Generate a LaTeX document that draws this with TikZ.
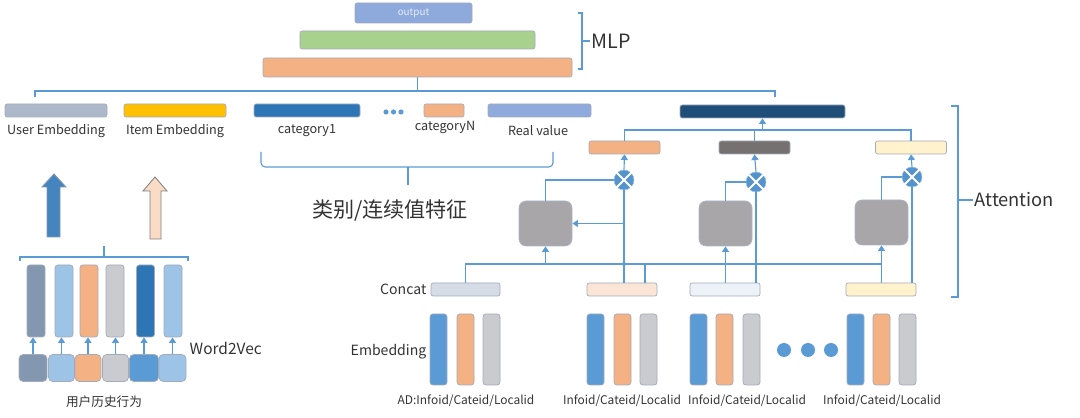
\documentclass[tikz,border=0pt]{standalone}
\usepackage{fontspec}
\setmainfont{Noto Sans CJK SC}
\usetikzlibrary{arrows.meta}

\definecolor{outc}{HTML}{8EA9DB}
\definecolor{greenc}{HTML}{A9D18E}
\definecolor{orangec}{HTML}{F4B183}
\definecolor{userc}{HTML}{ADB9CA}
\definecolor{yellowc}{HTML}{FFC000}
\definecolor{catc}{HTML}{2E75B6}
\definecolor{realc}{HTML}{8FAADC}
\definecolor{navyc}{HTML}{1F4E79}
\definecolor{dgrayc}{HTML}{767171}
\definecolor{lyellowc}{HTML}{FFF2CC}
\definecolor{unitc}{HTML}{A8A6A8}
\definecolor{linec}{HTML}{5B9BD5}
\definecolor{bluec}{HTML}{5B9BD5}
\definecolor{lgrayc}{HTML}{C9CBCF}
\definecolor{peachc}{HTML}{FBE5D6}
\definecolor{paleblc}{HTML}{EDF2F9}
\definecolor{concatc}{HTML}{D6DCE5}
\definecolor{slatec}{HTML}{8497B0}
\definecolor{skyc}{HTML}{9DC3E6}
\definecolor{bordc}{HTML}{A3ABBA}
\definecolor{txtc}{HTML}{333333}

\tikzset{
  box/.style={draw=bordc, rounded corners=1.5pt, inner sep=0pt, line width=0.5pt},
  sz/.style 2 args={minimum width=#1*0.025cm, minimum height=#2*0.025cm},
  wire/.style={draw=linec, line width=0.8pt},
  arr/.style={wire, -{Triangle[length=4pt,width=5pt]}},
  lab/.style={text=txtc, font=\fontsize{9}{10}\selectfont, inner sep=1pt},
  mul/.style={circle, fill=linec!90!navyc, draw=skyc, minimum size=0.5cm, inner sep=0pt},
  unit/.style={box, fill=unitc, draw=slatec!70, rounded corners=5pt, sz={53}{45}},
  tall/.style={box, rounded corners=2pt, sz={17}{71}},
}

\begin{document}
\begin{tikzpicture}[x=0.025cm, y=-0.025cm]
  \useasboundingbox (0,0) rectangle (1080,418);

  % MLP
  \node[box, fill=outc, sz={117}{20}, text=white!80!outc, font=\fontsize{7}{8}\selectfont] (out) at (413.5,13) {output};
  \node[box, fill=greenc, sz={235}{18}] (mlp2) at (417.5,40) {};
  \node[box, fill=orangec, sz={309}{19}] (mlp1) at (417.5,67.5) {};
  \draw[wire] (578,13) -- (582,13) -- (582,69) -- (578,69);
  \draw[wire] (582,41) -- (590,41);
  \node[lab, anchor=west, font=\fontsize{14}{16}\selectfont] (mlplab) at (590,41) {MLP};

  % feature row
  \coordinate (busL) at (35,91);
  \coordinate (busR) at (775,91);
  \draw[wire] (mlp1.south) -- (mlp1.south |- busL);
  \draw[wire] ([yshift=-0.15cm]busL) -- (busL) -- (busR) -- ([yshift=-0.15cm]busR);
  \node[box, fill=userc, sz={102}{13}] (user) at (56,110.5) {};
  \node[box, fill=yellowc, sz={102}{13}] (item) at (175,110.5) {};
  \node[box, fill=catc, sz={106}{13}] (cat1) at (307,110.5) {};
  \node[box, fill=orangec, sz={40}{13}] (catN) at (444,110.5) {};
  \node[box, fill=realc, sz={103}{13}] (real) at (539.5,110.5) {};
  \fill[bluec] (386,112) circle (2.6) (393.5,112) circle (2.6) (401,112) circle (2.6);
  \node[lab] (userlab) at (56,131) {User Embedding};
  \node[lab] (itemlab) at (175,131) {Item Embedding};
  \node[lab] (cat1lab) at (307,131) {category1};
  \node[lab] (catNlab) at (445,127) {categoryN};
  \node[lab] (reallab) at (538,131) {Real value};
  \draw[wire, rounded corners=3pt] (261,152) -- (261,167) -- (553,167) -- (553,152);
  \draw[wire] (408,167) -- (408,185);
  \node[lab, font=\fontsize{15}{17}\selectfont] (featlab) at (390,211) {类别/连续值特征};

  % attention
  \node[box, fill=navyc, sz={165}{13}] (attout) at (762.5,111.5) {};
  \node[box, fill=orangec, sz={71}{13}] (a1) at (624.5,147.5) {};
  \node[box, fill=dgrayc, sz={71}{13}] (a2) at (754.5,147.5) {};
  \node[box, fill=lyellowc, sz={71}{13}] (a3) at (911,147.5) {};
  \coordinate (atbus) at (762.5,130);
  \draw[wire] (a1.north) |- (atbus) -| (a3.north);
  \draw[wire] (a2.north) -- (a2.north |- atbus);
  \draw[arr] (atbus) -- (attout.south);

  \node[mul] (m1) at (624,180) {};
  \node[mul] (m2) at (756,182) {};
  \node[mul] (m3) at (912,177) {};
  \draw[white, line width=1.3pt] (m1.north west) -- (m1.south east) (m1.north east) -- (m1.south west);
  \draw[white, line width=1.3pt] (m2.north west) -- (m2.south east) (m2.north east) -- (m2.south west);
  \draw[white, line width=1.3pt] (m3.north west) -- (m3.south east) (m3.north east) -- (m3.south west);
  \draw[arr] (m1.north) -- (a1.south);
  \draw[arr] (m2.north) -- (a2.south);
  \draw[arr] (m3.north) -- (a3.south);

  \node[unit] (u1) at (545.5,223.5) {};
  \node[unit] (u2) at (725.5,223.5) {};
  \node[unit] (u3) at (881.5,222.5) {};
  \draw[wire] (u1.north) |- (m1.west);
  \draw[wire] (u2.north) |- (m2.west);
  \draw[wire] (u3.north) |- (m3.west);

  \node[box, fill=concatc, sz={69}{13}] (cc) at (465.5,289.5) {};
  \node[box, fill=peachc, sz={70}{13}] (c1) at (622,289.5) {};
  \node[box, fill=paleblc, sz={70}{13}] (c2) at (725,289.5) {};
  \node[box, fill=lyellowc, sz={70}{13}] (c3) at (881,289.5) {};
  \coordinate (ccbus) at (881.5,264);
  \draw[wire] (cc.north) |- (ccbus);
  \draw[arr] (u1.south |- ccbus) -- (u1.south);
  \draw[arr] (c2.north -| u2.south) -- (u2.south);
  \draw[arr] (c3.north -| u3.south) -- (u3.south);
  \draw[wire] (m1 |- c1.north) -- (m1.south);
  \draw[wire] (m2 |- c2.north) -- (m2.south);
  \draw[wire] (m3 |- c3.north) -- (m3.south);
  \draw[arr] (m1 |- u1.east) -- (u1.east);
  \draw[wire] ([xshift=0.575cm]c1.north) -- ([xshift=0.575cm]c1.north |- ccbus);

  \draw[wire] (951,106) -- (958,106) -- (958,297) -- (951,297);
  \draw[wire] (958,200) -- (973,200);
  \node[lab, anchor=west, font=\fontsize{13}{15}\selectfont] (attlab) at (973,200) {Attention};

  % embeddings
  \node[lab, anchor=east, font=\fontsize{10}{12}\selectfont] (cclab) at (428,289) {Concat};
  \node[lab, anchor=east, font=\fontsize{10}{12}\selectfont] (emblab) at (428,352) {Embedding};
  \node[tall, fill=bluec] (e11) at (438.5,349.5) {};
  \node[tall, fill=orangec] (e12) at (465.5,349.5) {};
  \node[tall, fill=lgrayc] (e13) at (491.5,349.5) {};
  \node[tall, fill=bluec] (e21) at (595.5,349.5) {};
  \node[tall, fill=orangec] (e22) at (622.5,349.5) {};
  \node[tall, fill=lgrayc] (e23) at (648.5,349.5) {};
  \node[tall, fill=bluec] (e31) at (698.5,349.5) {};
  \node[tall, fill=orangec] (e32) at (724.5,349.5) {};
  \node[tall, fill=lgrayc] (e33) at (751.5,349.5) {};
  \node[tall, fill=bluec] (e41) at (855.5,349.5) {};
  \node[tall, fill=orangec] (e42) at (881.5,349.5) {};
  \node[tall, fill=lgrayc] (e43) at (907.5,349.5) {};
  \fill[bluec] (784,350) circle (7) (808,350) circle (7) (831,350) circle (7);
  \node[lab, font=\fontsize{8.5}{10}\selectfont] (adlab) at (466,401) {AD:Infoid/Cateid/Localid};
  \node[lab, font=\fontsize{8.5}{10}\selectfont] (g2lab) at (622,401) {Infoid/Cateid/Localid};
  \node[lab, font=\fontsize{8.5}{10}\selectfont] (g3lab) at (747,401) {Infoid/Cateid/Localid};
  \node[lab, font=\fontsize{8.5}{10}\selectfont] (g4lab) at (882,401) {Infoid/Cateid/Localid};

  % user behaviour
  \filldraw[draw=slatec, fill=catc!80!skyc, line width=0.6pt]
    (47,237) -- (47,187) -- (42,187) -- (54,174) -- (66,187) -- (60,187) -- (60,237) -- cycle;
  \filldraw[draw=gray, fill=peachc!80!orangec, line width=0.6pt]
    (150,239) -- (150,191) -- (143,191) -- (155,177) -- (167,191) -- (161,191) -- (161,239) -- cycle;
  \draw[wire] (20,261) -- (20,257) -- (188,257) -- (188,261);
  \draw[wire] (104,257) -- (104,246);
  \node[box, fill=slatec, sz={18}{72}, rounded corners=2pt] (b1) at (36,301) {};
  \node[box, fill=skyc, sz={18}{72}, rounded corners=2pt] (b2) at (64,301) {};
  \node[box, fill=orangec, sz={18}{72}, rounded corners=2pt] (b3) at (89,301) {};
  \node[box, fill=lgrayc, sz={18}{72}, rounded corners=2pt] (b4) at (115,301) {};
  \node[box, fill=catc, sz={18}{72}, rounded corners=2pt] (b5) at (145.5,301) {};
  \node[box, fill=skyc, sz={18}{72}, rounded corners=2pt] (b6) at (173,301) {};
  \node[box, fill=slatec, sz={28}{27}, rounded corners=3pt] (s1) at (33,368) {};
  \node[box, fill=skyc, sz={26}{27}, rounded corners=3pt] (s2) at (61.5,368) {};
  \node[box, fill=orangec, sz={26}{27}, rounded corners=3pt] (s3) at (88,368) {};
  \node[box, fill=lgrayc, sz={26}{27}, rounded corners=3pt] (s4) at (115.5,368) {};
  \node[box, fill=bluec, sz={29}{27}, rounded corners=3pt] (s5) at (144,368) {};
  \node[box, fill=skyc, sz={27}{27}, rounded corners=3pt] (s6) at (172.5,368) {};
  \draw[arr] (s1.north) -- (s1.north |- b1.south);
  \draw[arr] (s2.north) -- (s2.north |- b2.south);
  \draw[arr] (s3.north) -- (s3.north |- b3.south);
  \draw[arr] (s4.north) -- (s4.north |- b4.south);
  \draw[arr] (s5.north) -- (s5.north |- b5.south);
  \draw[arr] (s6.north) -- (s6.north |- b6.south);
  \node[lab, anchor=west, font=\fontsize{11}{13}\selectfont] (w2vlab) at (188,348) {Word2Vec};
  \node[lab] (histlab) at (104,402) {用户历史行为};
\end{tikzpicture}
\end{document}
